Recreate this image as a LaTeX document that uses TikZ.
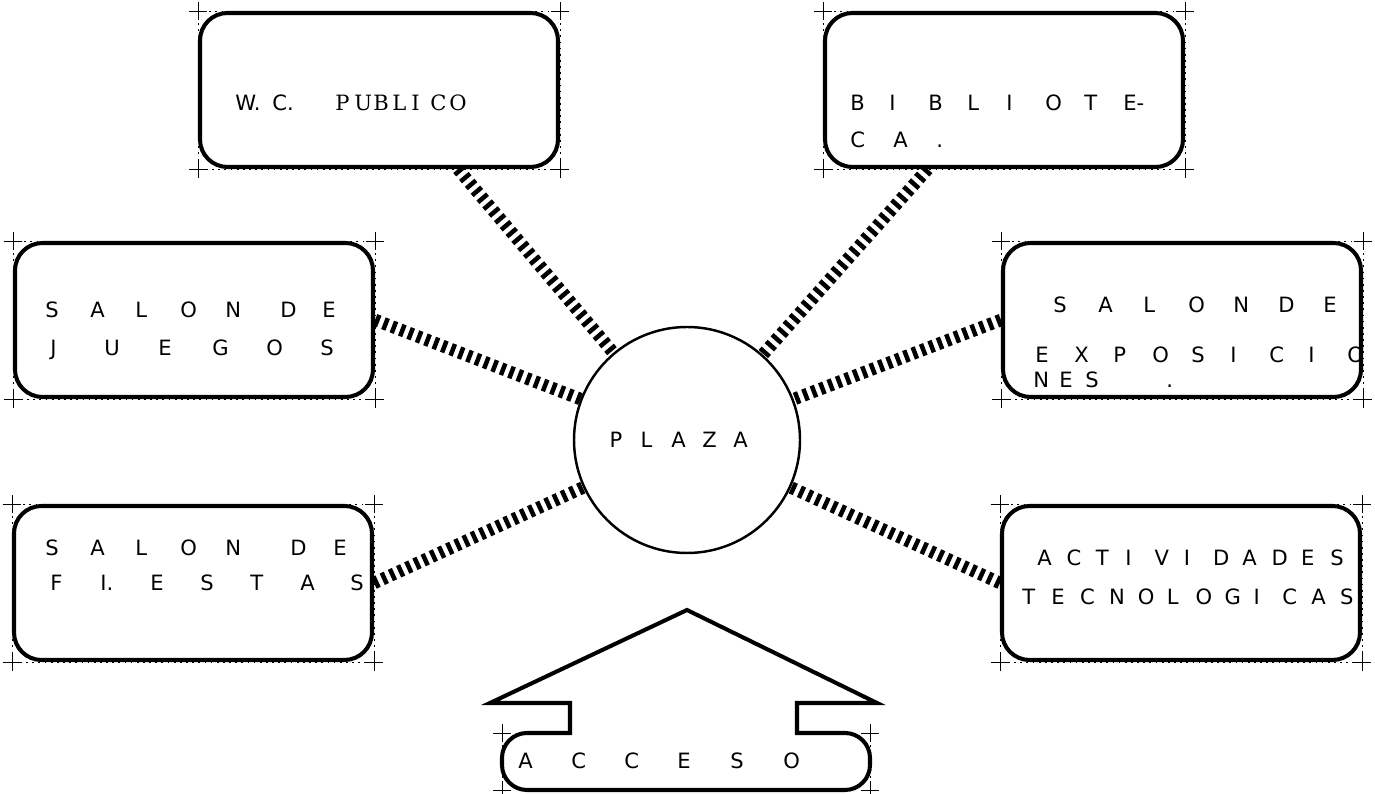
\documentclass[tikz,border=0pt]{standalone}
\usepackage{fontspec}
\setmainfont{DejaVu Sans}
\newfontfamily\typeserif{DejaVu Serif}
\makeatletter
\newcommand{\lettered}[2]{\@tfor\ltr:=#2\do{\makebox[#1][l]{\ltr}}}
\makeatother
\tikzset{
  area/.style={rectangle,draw,line width=2.3pt,rounded corners=0.55cm,minimum width=7.16cm,minimum height=3.08cm},
  guide/.style={line width=0.35pt},
  hatch/.style={line width=0.25cm,dash pattern=on 0.09cm off 0.09cm},
  lbl/.style={inner sep=0pt,anchor=west,font=\fontsize{12}{14}\selectfont}
}
\newcommand{\tickcross}[1]{\draw[guide,shift={(#1)}](-0.18,0) -- (0.18,0) (0,-0.18) -- (0,0.18);}
\newcommand{\cornermarks}[1]{%
  \draw[guide,dash pattern=on 1pt off 2.5pt](#1.north west) rectangle (#1.south east);
  \tickcross{#1.north west}\tickcross{#1.north east}\tickcross{#1.south west}\tickcross{#1.south east}}
\begin{document}
\begin{tikzpicture}
  \useasboundingbox (0,0) rectangle (27.5,15.88);
  % draw rooms
  \node at(7.58,14.08)[area](wc){};
  \node at(20.08,14.08)[area](bib){};
  \node at(3.88,9.48)[area](juegos){};
  \node at(23.64,9.48)[area](expo){};
  \node at(3.86,4.22)[area](fiestas){};
  \node at(23.62,4.22)[area](tecno){};
  \cornermarks{wc}\cornermarks{bib}\cornermarks{juegos}\cornermarks{expo}\cornermarks{fiestas}\cornermarks{tecno}
  % draw plaza
  \node at(13.74,7.08)[circle,draw,line width=1.4pt,minimum size=4.52cm,inner sep=0pt,font=\fontsize{12}{14}\selectfont](plaza){\lettered{0.62cm}{PLAZA}};
  % draw room names
  \node at(4.7,13.82)[lbl](wctext){\makebox[0.74cm][l]{W.}\makebox[1.26cm][l]{C.}{\typeserif\lettered{0.38cm}{PUBLICO}}};
  \node at(17.0,13.82)[lbl](bib1){\lettered{0.78cm}{BIBLIOT{E-}}};
  \node at(17.0,13.08)[lbl](bib2){\lettered{0.86cm}{CA.}};
  \node at(0.9,9.68)[lbl](juegos1){\lettered{0.9cm}{SALON}\hspace{0.2cm}\lettered{0.84cm}{DE}};
  \node at(1.0,8.88)[lbl](juegos2){\lettered{1.08cm}{JUEGOS}};
  \node at(21.06,9.78)[lbl](expo1){\lettered{0.9cm}{SALONDE}};
  \node at(20.7,8.78)[lbl](expo2){\lettered{0.78cm}{EXPOSICIO}};
  \node at(20.66,8.28)[lbl](expo3){\lettered{0.52cm}{NES}\hspace{1.1cm}.};
  \node at(0.9,4.92)[lbl](fiestas1){\lettered{0.9cm}{SALON}\hspace{0.4cm}\lettered{0.86cm}{DE}};
  \node at(1.0,4.22)[lbl](fiestas2){\lettered{1cm}{F{I.}ESTAS}};
  \node at(20.74,4.72)[lbl](tecno1){\lettered{0.586cm}{ACTIVIDADES}};
  \node at(20.44,3.94)[lbl](tecno2){\lettered{0.578cm}{TECNOLOGICAS}};
  % draw hatched links to plaza
  \draw[hatch](wc.-45) -- (plaza);
  \draw[hatch](bib.226) -- (plaza);
  \draw[hatch](juegos.east) -- (plaza);
  \draw[hatch](expo.west) -- (plaza);
  \draw[hatch](fiestas.east) -- (plaza);
  \draw[hatch](tecno.west) -- (plaza);
  % draw access arrow
  \draw[line width=2.3pt](9.8,1.82) -- (13.74,3.68) -- (17.54,1.82) -- (15.94,1.82) -- (15.94,1.22)
    -- (16.9,1.22) arc[start angle=90,end angle=0,radius=0.5] -- (17.4,0.58)
    arc[start angle=0,end angle=-90,radius=0.5] -- (10.54,0.08)
    arc[start angle=270,end angle=180,radius=0.5] -- (10.04,0.72)
    arc[start angle=180,end angle=90,radius=0.5] -- (11.4,1.22) -- (11.4,1.82) -- cycle;
  \coordinate (accnw) at (10.04,1.22);
  \coordinate (accse) at (17.4,0.08);
  \draw[guide,dash pattern=on 1pt off 2.5pt](accnw) -- (10.04,0.08) (accse) -- (17.4,1.22);
  \tickcross{accnw}\tickcross{accse}\tickcross{10.04,0.08}\tickcross{17.4,1.22}
  \node at(10.36,0.66)[lbl](acceso){\lettered{1.06cm}{ACCESO}};
\end{tikzpicture}
\end{document}
